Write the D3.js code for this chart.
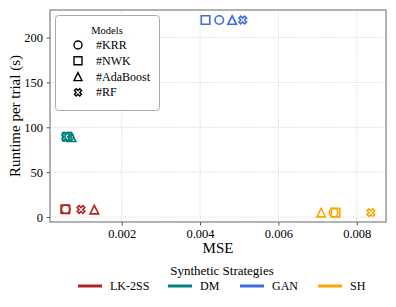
<!DOCTYPE html>
<html><head><meta charset="utf-8">
<script src="https://cdn.jsdelivr.net/npm/d3@7"></script>
<style>body{margin:0;background:#fff}svg{display:block}</style>
</head><body><div id="chart"></div>
<script>
const strategies = ["LK-2SS", "DM", "GAN", "SH"];
const colors = ["#b22222", "#008080", "#4169e1", "#ffa500"];
const models = ["#KRR", "#NWK", "#AdaBoost", "#RF"];
const shapes = ["circle", "square", "triangle", "x"];
// MSE per strategy per model (KRR, NWK, AdaBoost, RF)
const mseValues = [
  [0.00057, 0.00056, 0.00130, 0.00096],
  [0.00066, 0.00060, 0.00072, 0.00057],
  [0.00449, 0.00414, 0.00482, 0.00509],
  [0.00741, 0.00746, 0.00709, 0.00836]
];
// runtime per trial (s)
const runtimeValues = [
  [8.7, 8.7, 8.3, 8.5],
  [89.5, 89.5, 89.0, 89.5],
  [219.5, 219.5, 219.5, 219.5],
  [4.9, 4.9, 4.9, 4.9]
];
const xTicks = [0.002, 0.004, 0.006, 0.008];
const yTicks = [0, 50, 100, 150, 200];

const W = 396, H = 307;
const m = {l: 50, r: 10, t: 10, b: 85};
const svg = d3.select("#chart").append("svg").attr("width", W).attr("height", H);
const x = d3.scaleLinear().domain([0.000169, 0.008747]).range([m.l, W - m.r]);
const y = d3.scaleLinear().domain([-5.5, 230.7]).range([H - m.b, m.t]);

// grid
const g = svg.append("g");
g.selectAll(".gx").data(xTicks).join("line").attr("x1", d => x(d)).attr("x2", d => x(d))
  .attr("y1", m.t).attr("y2", H - m.b).attr("stroke", "#b0b0b0").attr("stroke-width", 0.8).attr("stroke-dasharray", "1,1.5").attr("opacity", 0.7);
g.selectAll(".gy").data(yTicks).join("line").attr("y1", d => y(d)).attr("y2", d => y(d))
  .attr("x1", m.l).attr("x2", W - m.r).attr("stroke", "#b0b0b0").attr("stroke-width", 0.8).attr("stroke-dasharray", "1,1.5").attr("opacity", 0.7);

// axes
const xa = svg.append("g").attr("transform", `translate(0,${H - m.b})`)
  .call(d3.axisBottom(x).tickValues(xTicks).tickFormat(d3.format(".3f")).tickSizeOuter(0).tickSize(3.5).tickPadding(3.5));
const ya = svg.append("g").attr("transform", `translate(${m.l},0)`)
  .call(d3.axisLeft(y).tickValues(yTicks).tickFormat(d3.format("d")).tickSizeOuter(0).tickSize(3.5).tickPadding(3.5));
[xa, ya].forEach(a => {
  a.selectAll("text").attr("font-size", 12.5).attr("fill", "#000");
  a.selectAll(".tick line").attr("stroke", "#555");
  a.select(".domain").remove();
});
// spines
svg.append("rect").attr("x", m.l).attr("y", m.t).attr("width", W - m.r - m.l).attr("height", H - m.b - m.t)
  .attr("fill", "none").attr("stroke", "#666").attr("stroke-width", 1);

// axis labels
svg.append("text").attr("x", (m.l + W - m.r) / 2).attr("y", 253).attr("text-anchor", "middle").attr("font-size", 15).text("MSE");
svg.append("text").attr("transform", `translate(20,${(m.t + H - m.b) / 2}) rotate(-90)`).attr("text-anchor", "middle").attr("font-size", 15).text("Runtime per trial (s)");

function markerPath(shape, s) {
  const h = s / 2;
  if (shape === "circle") return `M${h},0A${h},${h} 0 1,1 ${-h},0A${h},${h} 0 1,1 ${h},0Z`;
  if (shape === "square") return `M${-h},${-h}H${h}V${h}H${-h}Z`;
  if (shape === "triangle") return `M0,${-h}L${h},${h}L${-h},${h}Z`;
  const pts = [[-1,-3],[1,-3],[1,-1],[3,-1],[3,1],[1,1],[1,3],[-1,3],[-1,1],[-3,1],[-3,-1],[-1,-1]];
  const k = s / 6 * 0.95, c = Math.SQRT1_2;
  return "M" + pts.map(([a, b]) => [(a * c - b * c) * k, (a * c + b * c) * k].map(v => v.toFixed(2)).join(",")).join("L") + "Z";
}

// points
const pts = [];
strategies.forEach((st, i) => models.forEach((md, j) => pts.push({i, j, mx: mseValues[i][j], rt: runtimeValues[i][j]})));
svg.append("g").selectAll("path").data(pts).join("path")
  .attr("transform", d => `translate(${x(d.mx)},${y(d.rt)})`)
  .attr("d", d => markerPath(shapes[d.j], 8.5))
  .attr("fill", "none").attr("stroke", d => colors[d.i]).attr("stroke-width", 1.6);

// models legend
const lg = svg.append("g");
lg.append("rect").attr("x", 55.5).attr("y", 15.5).attr("width", 104).attr("height", 95).attr("rx", 3)
  .attr("fill", "#fff").attr("fill-opacity", 0.8).attr("stroke", "#aaa").attr("stroke-width", 1);
lg.append("text").attr("x", 107).attr("y", 34).attr("text-anchor", "middle").attr("font-size", 10.5).text("Models");
models.forEach((md, j) => {
  const yy = 45 + j * 15.8;
  lg.append("path").attr("transform", `translate(78,${yy})`).attr("d", markerPath(shapes[j], 8))
    .attr("fill", "none").attr("stroke", "#000").attr("stroke-width", 1.4);
  lg.append("text").attr("x", 96).attr("y", yy + 4).attr("font-size", 12).text(md);
});

// strategies legend
svg.append("text").attr("x", 222).attr("y", 275).attr("text-anchor", "middle").attr("font-size", 13).text("Synthetic Strategies");
const lx = [78, 168, 240, 318];
strategies.forEach((st, i) => {
  svg.append("line").attr("x1", lx[i]).attr("x2", lx[i] + 24).attr("y1", 286).attr("y2", 286)
    .attr("stroke", colors[i]).attr("stroke-width", 3);
  svg.append("text").attr("x", lx[i] + 32).attr("y", 290).attr("font-size", 12).text(st);
});
svg.selectAll("text").style("font-family", "'Liberation Serif', 'Times New Roman', serif");
</script></body></html>
